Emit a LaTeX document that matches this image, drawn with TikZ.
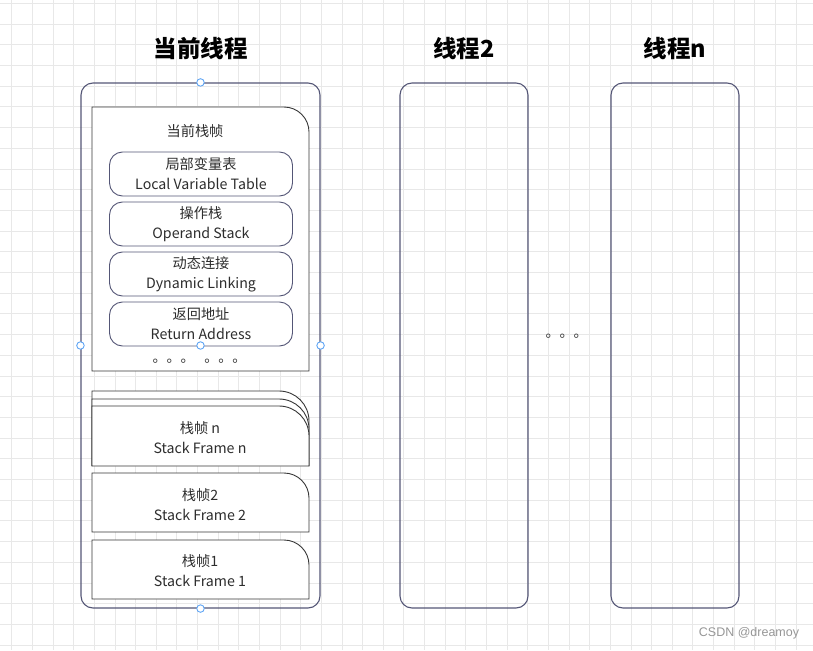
\documentclass[tikz,border=0pt]{standalone}
\usepackage{fontspec}
\setmainfont{Noto Sans CJK SC}
\newfontfamily\markfont{Liberation Sans}
\usetikzlibrary{positioning}
\definecolor{gridgray}{RGB}{232,232,232}
\definecolor{threadline}{RGB}{84,86,118}
\definecolor{frameline}{RGB}{55,55,55}
\definecolor{handleblue}{RGB}{95,165,245}
\definecolor{labelgray}{RGB}{45,45,45}
\definecolor{markgray}{RGB}{150,150,150}

\begin{document}
\begin{tikzpicture}[x=1pt,y=-1pt,node distance=50pt,on grid,
	gridline/.style={draw=gridgray,line width=0.8pt},
	thread/.style={draw=threadline,line width=1.1pt,rounded corners=12pt,minimum height=525pt},
	title/.style={font=\fontsize{23.5}{28}\selectfont\bfseries,text=black},
	part/.style={draw=threadline,line width=0.9pt,rounded corners=13pt,minimum width=183pt,minimum height=44pt,inner sep=0pt,align=center,font=\fontsize{14.2}{20}\selectfont,text=labelgray},
	frame/.style={draw=frameline,line width=0.9pt,fill=white},
	frametext/.style={align=center,font=\fontsize{14.2}{20}\selectfont,text=labelgray},
	handle/.style={circle,draw=handleblue,fill=white,line width=0.9pt,inner sep=0pt,minimum size=7.5pt}]
	\useasboundingbox (0,0) rectangle (813,650);
	\foreach \i in {0,...,38}
		\draw[gridline] ({11.7+20.64*\i},0) -- ({11.7+20.64*\i},650);
	\foreach \j in {0,...,31}
		\draw[gridline] (0,{3.3+20.7*\j}) -- (813,{3.3+20.7*\j});

	\node[thread,minimum width=239pt] (cur) at (200.5,345.5) {};
	\node[thread,minimum width=128pt] (t2) at (464,345.5) {};
	\node[thread,minimum width=128pt] (tn) at (675,345.5) {};
	\node[title] (curtitle) [above=282pt of cur.center] {当前线程};
	\node[title] (t2title) [above=282pt of t2.center] {线程2};
	\node[title] (tntitle) [above=282pt of tn.center] {线程n};
	\node[anchor=base,font=\fontsize{14}{14}\selectfont,text=frameline] (between) at (566.5,337) {。。。};

	\draw[frame] (92,371) -- (92,107) [rounded corners=25pt] -- (309,107) [sharp corners] -- (309,371) -- cycle;
	\node[frametext] (curframe) at (195,131.5) {当前栈帧};
	\node[part] (lvt) at (201,174) {局部变量表\\Local Variable Table};
	\node[part] (ops) [below=of lvt] {操作栈\\Operand Stack};
	\node[part] (dyn) [below=of ops] {动态连接\\Dynamic Linking};
	\node[part] (ret) [below=of dyn] {返回地址\\Return Address};
	\node[anchor=base,font=\fontsize{14}{14}\selectfont,text=frameline] (more) at (199.5,362.5) {。。。\hspace{10pt}。。。};

	\draw[frame] (92,466) -- (92,391) [rounded corners=30pt] -- (309,391) [sharp corners] -- (309,466);
	\draw[frame] (92,466) -- (92,399) [rounded corners=30pt] -- (309,399) [sharp corners] -- (309,466);
	\draw[frame] (92,466) -- (92,406) [rounded corners=30pt] -- (309,406) [sharp corners] -- (309,466) -- cycle;
	\node[frametext] (sfn) at (200,438) {栈帧 n\\Stack Frame n};
	\draw[frame] (92,532) -- (92,473) [rounded corners=25pt] -- (309,473) [sharp corners] -- (309,532) -- cycle;
	\node[frametext] (sf2) at (200,504.5) {栈帧2\\Stack Frame 2};
	\draw[frame] (92,599) -- (92,540) [rounded corners=25pt] -- (309,540) [sharp corners] -- (309,599) -- cycle;
	\node[frametext] (sf1) at (200,571) {栈帧1\\Stack Frame 1};

	\node[handle] (hn) at (cur.north) {};
	\node[handle] (hw) at (cur.west) {};
	\node[handle] (he) at (cur.east) {};
	\node[handle] (hs) at (cur.south) {};
	\node[handle] (hc) at (cur.center) {};

	\node[font=\markfont\fontsize{12.5}{14}\selectfont,text=markgray] (mark) at (749,633) {CSDN @dreamoy};
\end{tikzpicture}
\end{document}
